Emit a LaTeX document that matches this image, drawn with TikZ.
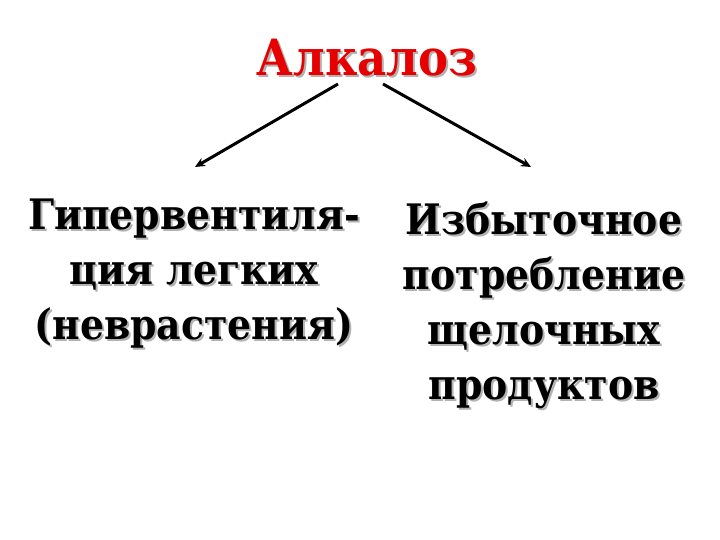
\documentclass[tikz,border=0pt]{standalone}
\usepackage{fontspec}
\setmainfont{DejaVu Serif Condensed}
\usetikzlibrary{arrows.meta}
\tikzset{
  body/.style={align=center, inner sep=0pt, font=\fontsize{42}{55}\selectfont\bfseries},
  ttl/.style={inner sep=0pt, font=\fontsize{50}{52}\selectfont\bfseries},
  shad/.style={text=black!30},
  arr/.style={line width=3pt, -{Stealth[length=10pt,width=9pt]}}
}
\begin{document}
\begin{tikzpicture}[x=1pt,y=-1pt]
\useasboundingbox (0,0) rectangle (720,540);
\fill[white] (0,0) rectangle (720,540);
% title
\node[ttl,shad,anchor=base] (titleS) at (369,78) {Алкалоз};
\node[ttl,text={rgb,255:red,230;green,0;blue,0},anchor=base] (title) at (367,76) {Алкалоз};
% left
\node[body,shad,anchor=north] (leftS) at (196,201) {Гипервентиля-\\ция легких\\(неврастения)};
\node[body,anchor=north] (left) at (194,199) {Гипервентиля-\\ция легких\\(неврастения)};
% right
\node[body,shad,anchor=north] (rightS) at (546,204) {Избыточное\\потребление\\щелочных\\продуктов};
\node[body,anchor=north] (right) at (544,202) {Избыточное\\потребление\\щелочных\\продуктов};
% arrows
\coordinate (s1) at (338,84);
\coordinate (e1) at (195,167);
\coordinate (s2) at (383,84);
\coordinate (e2) at (531,167);
\draw[arr] (s1) -- (e1);
\draw[arr] (s2) -- (e2);
\end{tikzpicture}
\end{document}
